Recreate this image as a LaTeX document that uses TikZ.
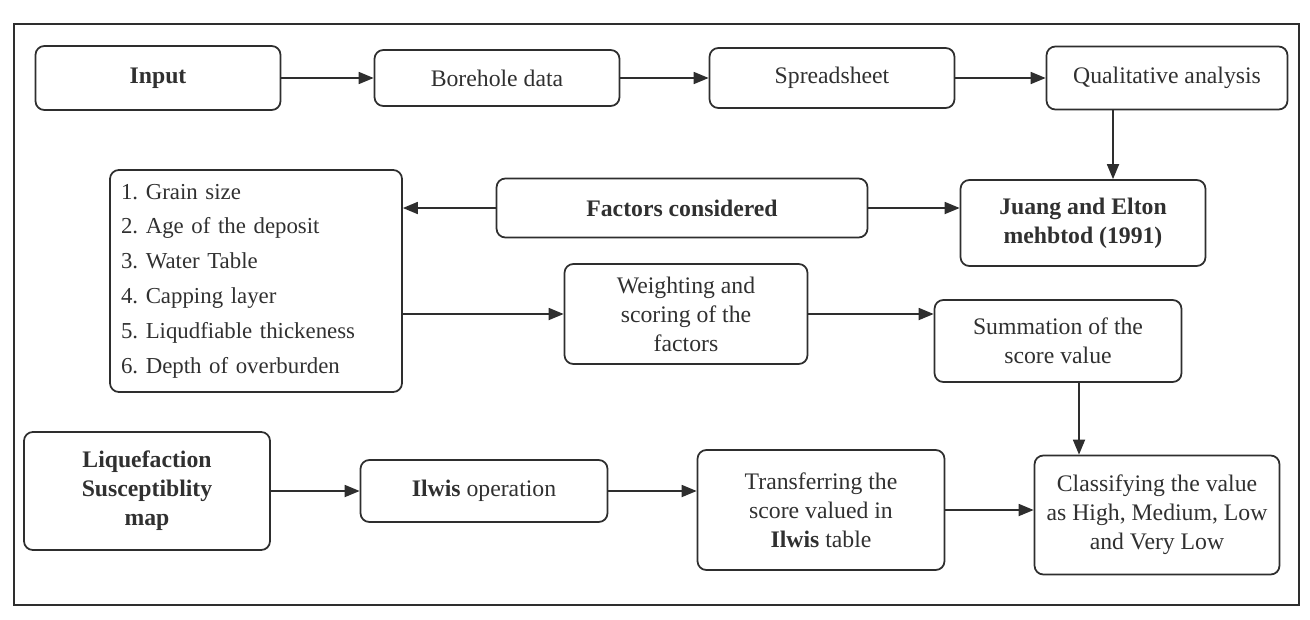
\documentclass[tikz,border=0pt]{standalone}
\usepackage{fontspec}
\setmainfont{Liberation Serif}
\usetikzlibrary{arrows.meta}
\definecolor{boxline}{HTML}{2E2E2E}
\definecolor{boxtext}{HTML}{303030}
\tikzset{
  procbox/.style={draw=boxline, line width=1pt, rounded corners=5pt,
                  minimum width=4.9cm, align=center, inner sep=2pt,
                  text=boxtext, font=\fontsize{13.5}{16.5}\selectfont},
  listbox/.style={procbox, align=left, text width=5.4cm,
                  font=\fontsize{13}{19.8}\selectfont},
  flowarrow/.style={draw=boxline, line width=1pt,
                    -{Triangle[length=0.3cm, width=0.24cm]}},
}
\begin{document}
\begin{tikzpicture}[x=0.02cm, y=-0.02cm]
    \useasboundingbox (0,0) rectangle (1310,619);
    \draw[boxline, line width=1pt] (14,24) rectangle (1299,605);
    \node[procbox, minimum height=1.28cm] (input) at (158,78) {\textbf{Input}};
    \node[procbox, minimum height=1.12cm] (borehole) at (497,78) {Borehole data};
    \node[procbox, minimum height=1.2cm] (spread) at (832,78) {Spreadsheet};
    \node[procbox, minimum width=4.82cm, minimum height=1.26cm] (qual) at (1167,78) {Qualitative analysis};
    \node[listbox, minimum width=5.84cm, minimum height=4.44cm] (factlist) at (256,281)
      {1.\ Grain size\\2.\ Age of the deposit\\3.\ Water Table\\4.\ Capping layer\\5.\ Liqudfiable thickeness\\6.\ Depth of overburden};
    \node[procbox, minimum width=7.42cm, minimum height=1.18cm] (factors) at (682,208) {\textbf{Factors considered}};
    \node[procbox, minimum height=1.72cm] (juang) at (1083,223) {\textbf{Juang and Elton}\\\textbf{mehbtod (1991)}};
    \node[procbox, minimum width=4.86cm, minimum height=2.0cm] (weight) at (686,314) {Weighting and\\scoring of the\\factors};
    \node[procbox, minimum width=4.94cm, minimum height=1.64cm] (summ) at (1058,341) {Summation of the\\score value};
    \node[procbox, minimum width=4.92cm, minimum height=2.36cm] (liq) at (147,491) {\textbf{Liquefaction}\\\textbf{Susceptiblity}\\\textbf{map}};
    \node[procbox, minimum width=4.94cm, minimum height=1.24cm] (ilwis) at (484,491) {\textbf{Ilwis} operation};
    \node[procbox, minimum width=4.94cm, minimum height=2.4cm] (trans) at (821,510) {Transferring the\\score valued in\\\textbf{Ilwis} table};
    \node[procbox, minimum height=2.38cm] (class) at (1157,515) {Classifying the value\\as High, Medium, Low\\and Very Low};
    \coordinate (qj) at ([xshift=0.6cm]juang.north);
    \coordinate (sc) at ([xshift=0.42cm]summ.south);
    \draw[flowarrow] (input) -- (borehole);
    \draw[flowarrow] (borehole) -- (spread);
    \draw[flowarrow] (spread) -- (qual);
    \draw[flowarrow] (qual.south -| qj) -- (qj);
    \draw[flowarrow] (factors.west) -- (factors.west -| factlist.east);
    \draw[flowarrow] (factors.east) -- (factors.east -| juang.west);
    \draw[flowarrow] (weight.west -| factlist.east) -- (weight.west);
    \draw[flowarrow] (weight.east) -- (weight.east -| summ.west);
    \draw[flowarrow] (sc) -- (sc |- class.north);
    \draw[flowarrow] (liq) -- (ilwis);
    \draw[flowarrow] (ilwis.east) -- (ilwis.east -| trans.west);
    \draw[flowarrow] (trans.east) -- (trans.east -| class.west);
  \end{tikzpicture}
\end{document}
